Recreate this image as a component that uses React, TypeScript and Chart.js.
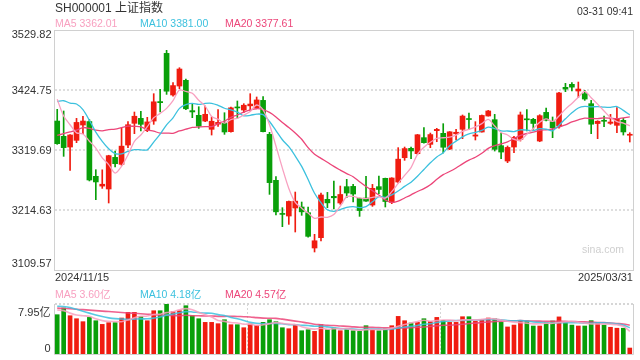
import React, { useEffect, useRef } from 'react';
import { Chart, registerables } from 'chart.js';

Chart.register(...registerables);

const dates = [
  '2024/11/15', '2024/11/18', '2024/11/19', '2024/11/20', '2024/11/21', '2024/11/22', '2024/11/25', '2024/11/26', '2024/11/27', '2024/11/28', '2024/11/29',
  '2024/12/02', '2024/12/03', '2024/12/04', '2024/12/05', '2024/12/06', '2024/12/09', '2024/12/10', '2024/12/11', '2024/12/12', '2024/12/13',
  '2024/12/16', '2024/12/17', '2024/12/18', '2024/12/19', '2024/12/20', '2024/12/23', '2024/12/24', '2024/12/25', '2024/12/26', '2024/12/27',
  '2024/12/30', '2024/12/31',
  '2025/01/02', '2025/01/03', '2025/01/06', '2025/01/07', '2025/01/08', '2025/01/09', '2025/01/10', '2025/01/13', '2025/01/14', '2025/01/15',
  '2025/01/16', '2025/01/17', '2025/01/20', '2025/01/21', '2025/01/22', '2025/01/23', '2025/01/24', '2025/01/27',
  '2025/02/05', '2025/02/06', '2025/02/07', '2025/02/10', '2025/02/11', '2025/02/12', '2025/02/13', '2025/02/14', '2025/02/17', '2025/02/18',
  '2025/02/19', '2025/02/20', '2025/02/21', '2025/02/24', '2025/02/25', '2025/02/26', '2025/02/27', '2025/02/28',
  '2025/03/03', '2025/03/04', '2025/03/05', '2025/03/06', '2025/03/07', '2025/03/10', '2025/03/11', '2025/03/12', '2025/03/13', '2025/03/14',
  '2025/03/17', '2025/03/18', '2025/03/19', '2025/03/20', '2025/03/21', '2025/03/24', '2025/03/25', '2025/03/26', '2025/03/27', '2025/03/28',
  '2025/03/31',
];

const opens = [
  3370.4, 3343.6, 3324.9, 3336.6, 3363.4, 3369.5, 3273.6, 3256.5, 3251.4, 3306.8,
  3294.6, 3328.4, 3366.4, 3375.1, 3353.5, 3370.4, 3404.5, 3488.9, 3416.0, 3431.7,
  3441.7, 3388.6, 3380.4, 3370.4, 3355.9, 3365.0, 3366.9, 3351.8, 3395.0, 3389.7,
  3397.0, 3393.8, 3406.6, 3347.1, 3266.6, 3208.5, 3204.1, 3218.1, 3219.9, 3209.9,
  3148.1, 3166.2, 3233.3, 3238.5, 3226.9, 3255.5, 3256.0, 3235.0, 3235.6, 3223.4,
  3255.5, 3270.1, 3228.0, 3263.6, 3306.2, 3322.6, 3313.3, 3341.3, 3329.6, 3353.5,
  3348.9, 3321.4, 3348.0, 3355.9, 3374.5, 3344.0, 3351.2, 3379.2, 3372.8, 3327.3,
  3300.4, 3324.9, 3338.3, 3374.0, 3373.4, 3335.4, 3385.6, 3369.3, 3361.7, 3429.4,
  3434.7, 3423.0, 3418.3, 3400.8, 3366.0, 3371.0, 3366.4, 3362.9, 3371.6, 3345.5,
];

const highs = [
  3390.9, 3388.0, 3346.5, 3375.1, 3378.6, 3373.0, 3285.2, 3285.0, 3310.5, 3317.9,
  3358.8, 3369.3, 3386.2, 3387.4, 3376.9, 3418.3, 3425.9, 3494.2, 3437.6, 3463.8,
  3444.0, 3399.6, 3395.5, 3396.7, 3377.5, 3390.3, 3385.0, 3395.0, 3405.5, 3400.8,
  3418.3, 3412.5, 3413.1, 3350.6, 3273.0, 3218.7, 3230.4, 3246.1, 3228.6, 3219.9,
  3172.0, 3244.4, 3245.5, 3265.4, 3256.6, 3268.3, 3259.5, 3235.5, 3273.6, 3259.5,
  3274.1, 3270.5, 3271.2, 3323.8, 3324.9, 3324.9, 3347.0, 3358.8, 3349.4, 3357.6,
  3365.8, 3352.0, 3355.9, 3381.0, 3384.5, 3369.3, 3381.0, 3389.1, 3382.1, 3349.4,
  3326.7, 3343.5, 3386.2, 3390.3, 3375.1, 3381.5, 3393.2, 3377.5, 3420.6, 3436.4,
  3437.6, 3438.7, 3424.1, 3406.6, 3371.0, 3379.2, 3382.1, 3393.8, 3375.1, 3350.0,
];

const lows = [
  3329.6, 3308.6, 3284.1, 3332.5, 3348.3, 3265.5, 3232.7, 3252.5, 3226.9, 3289.9,
  3292.8, 3323.8, 3348.3, 3353.0, 3351.8, 3364.6, 3386.2, 3417.1, 3414.0, 3427.1,
  3390.3, 3376.3, 3357.6, 3369.3, 3345.9, 3361.1, 3347.1, 3351.0, 3375.1, 3385.0,
  3388.0, 3392.0, 3351.2, 3242.0, 3205.8, 3185.4, 3189.5, 3176.1, 3205.3, 3167.0,
  3141.1, 3160.3, 3218.7, 3216.4, 3224.5, 3236.2, 3228.6, 3203.5, 3229.5, 3221.0,
  3243.2, 3219.9, 3225.7, 3261.9, 3301.6, 3304.5, 3312.1, 3331.5, 3323.8, 3334.2,
  3314.4, 3320.3, 3337.2, 3339.5, 3355.9, 3337.2, 3351.0, 3379.0, 3317.9, 3304.5,
  3297.5, 3315.0, 3335.4, 3353.0, 3355.9, 3334.2, 3370.4, 3341.3, 3358.0, 3421.8,
  3423.0, 3411.3, 3406.6, 3348.3, 3339.5, 3360.5, 3364.6, 3350.0, 3345.9, 3333.7,
];

const closes = [
  3330.73, 3323.85, 3346.01, 3367.99, 3370.40, 3267.19, 3263.76, 3259.76, 3309.78, 3295.70,
  3326.46, 3363.98, 3378.81, 3364.65, 3368.86, 3404.08, 3402.53, 3422.66, 3432.49, 3461.50,
  3391.88, 3386.33, 3361.49, 3382.21, 3370.03, 3368.07, 3351.26, 3393.53, 3393.35, 3398.08,
  3400.14, 3407.33, 3351.76, 3262.56, 3211.43, 3206.92, 3229.64, 3230.17, 3211.39, 3168.52,
  3160.76, 3240.94, 3227.12, 3236.03, 3241.82, 3244.38, 3242.62, 3213.62, 3230.16, 3252.63,
  3250.60, 3229.49, 3270.66, 3303.67, 3322.17, 3318.06, 3346.39, 3332.48, 3346.72, 3355.83,
  3324.49, 3351.54, 3350.78, 3379.11, 3373.03, 3346.04, 3380.21, 3388.06, 3320.90, 3316.11,
  3324.21, 3341.96, 3381.10, 3372.55, 3366.16, 3379.83, 3371.92, 3358.73, 3419.56, 3426.43,
  3429.76, 3426.43, 3408.95, 3364.83, 3370.03, 3369.98, 3368.70, 3373.75, 3351.31, 3346.31,
];

const ma5 = [
  3408.38, 3379.13, 3363.94, 3349.68, 3347.80, 3335.09, 3323.07, 3305.82, 3294.18, 3279.24,
  3291.09, 3311.14, 3334.95, 3345.92, 3360.55, 3376.08, 3383.79, 3392.56, 3406.12, 3424.65,
  3422.21, 3418.97, 3406.74, 3396.68, 3378.39, 3373.63, 3366.61, 3373.02, 3375.25, 3380.86,
  3387.27, 3398.49, 3390.13, 3363.97, 3326.64, 3288.00, 3252.46, 3228.14, 3217.91, 3209.33,
  3200.10, 3202.36, 3201.75, 3206.67, 3221.33, 3238.06, 3238.39, 3235.69, 3234.52, 3236.68,
  3237.93, 3235.30, 3246.71, 3261.41, 3275.32, 3288.81, 3312.19, 3324.55, 3333.16, 3339.90,
  3341.18, 3342.21, 3345.87, 3352.35, 3355.79, 3360.10, 3365.83, 3373.29, 3361.65, 3350.26,
  3345.90, 3338.25, 3336.86, 3347.19, 3357.20, 3368.32, 3374.31, 3369.84, 3379.24, 3391.29,
  3401.28, 3412.18, 3422.23, 3411.28, 3400.00, 3388.04, 3376.50, 3369.46, 3366.75, 3362.01,
];

const ma10 = [
  3404.59, 3405.95, 3401.85, 3400.27, 3390.24, 3371.73, 3351.10, 3334.88, 3321.93, 3313.52,
  3313.09, 3317.10, 3320.38, 3320.05, 3319.90, 3333.58, 3347.46, 3363.75, 3376.02, 3392.60,
  3399.14, 3401.38, 3399.65, 3401.40, 3401.52, 3397.92, 3392.79, 3389.88, 3385.97, 3379.62,
  3380.45, 3382.55, 3381.58, 3369.61, 3353.75, 3337.64, 3325.47, 3309.14, 3290.94, 3267.99,
  3244.05, 3227.41, 3214.95, 3212.29, 3215.33, 3219.08, 3220.38, 3218.72, 3220.60, 3229.01,
  3237.99, 3236.85, 3241.20, 3247.97, 3256.00, 3263.37, 3273.75, 3285.63, 3297.29, 3307.61,
  3315.00, 3327.20, 3335.21, 3342.76, 3347.84, 3350.64, 3354.02, 3359.58, 3357.00, 3353.03,
  3353.00, 3352.04, 3355.07, 3354.42, 3353.73, 3357.11, 3356.28, 3353.35, 3363.21, 3374.25,
  3384.80, 3393.25, 3396.03, 3395.26, 3395.65, 3394.66, 3394.34, 3395.84, 3389.02, 3381.00,
];

const ma20 = [
  3345.46, 3348.25, 3351.26, 3354.52, 3359.02, 3357.40, 3354.48, 3353.14, 3355.32, 3356.12,
  3358.84, 3361.53, 3361.12, 3360.16, 3355.07, 3352.66, 3349.28, 3349.32, 3348.98, 3353.06,
  3356.12, 3359.24, 3360.02, 3360.73, 3360.71, 3365.75, 3370.13, 3376.82, 3380.99, 3386.11,
  3389.80, 3391.96, 3390.61, 3385.51, 3377.64, 3367.78, 3359.13, 3349.51, 3338.45, 3323.80,
  3312.25, 3304.98, 3298.26, 3290.95, 3284.54, 3278.36, 3272.92, 3263.93, 3255.77, 3248.50,
  3241.02, 3232.13, 3228.07, 3230.13, 3235.67, 3241.22, 3247.06, 3252.18, 3258.94, 3268.31,
  3276.49, 3282.02, 3288.21, 3295.36, 3301.92, 3307.00, 3313.88, 3322.61, 3327.14, 3330.32,
  3334.00, 3339.62, 3345.14, 3348.59, 3350.79, 3353.88, 3355.15, 3356.46, 3360.11, 3363.64,
  3368.90, 3372.64, 3375.55, 3374.84, 3374.69, 3375.89, 3375.31, 3374.59, 3376.12, 3377.61,
];

// volumes in 亿
const volumes = [
  6.25, 7.31, 6.09, 5.61, 5.14, 5.82, 5.29, 4.71, 4.98, 4.98,
  5.72, 6.62, 6.62, 5.98, 5.29, 6.88, 6.88, 7.95, 6.72, 6.88,
  7.68, 6.09, 5.61, 5.03, 5.03, 4.82, 5.45, 4.66, 4.66, 4.18,
  4.77, 4.55, 5.03, 5.45, 5.14, 4.18, 4.02, 4.61, 3.70, 3.86,
  3.60, 4.66, 3.86, 4.13, 3.70, 3.86, 3.70, 3.60, 4.50, 3.86,
  3.70, 3.98, 4.50, 5.98, 5.29, 4.93, 5.03, 5.61, 5.19, 5.82,
  5.35, 5.03, 5.03, 5.93, 5.93, 5.19, 5.45, 5.72, 5.61, 5.03,
  4.30, 4.60, 5.35, 5.25, 4.45, 4.45, 5.00, 5.25, 5.90, 5.05,
  4.60, 4.45, 4.45, 5.30, 5.00, 4.60, 4.25, 4.10, 4.10, 0.95,
];

const volMa5 = [
  7.00, 6.90, 6.50, 6.20, 6.08, 5.99, 5.59, 5.31, 5.19, 5.16,
  5.14, 5.40, 5.78, 5.98, 6.05, 6.28, 6.33, 6.58, 6.73, 7.05,
  7.21, 7.05, 6.60, 6.26, 5.89, 5.32, 5.19, 5.00, 4.92, 4.75,
  4.74, 4.56, 4.64, 4.80, 4.99, 4.87, 4.76, 4.68, 4.33, 4.07,
  3.96, 4.09, 3.94, 4.02, 3.99, 4.04, 3.85, 3.80, 3.87, 3.90,
  3.87, 3.93, 4.11, 4.40, 4.69, 4.94, 5.15, 5.37, 5.21, 5.32,
  5.40, 5.40, 5.28, 5.43, 5.45, 5.42, 5.51, 5.64, 5.58, 5.40,
  5.22, 5.05, 4.98, 4.91, 4.79, 4.82, 4.90, 4.88, 5.01, 5.13,
  5.16, 5.05, 4.89, 4.77, 4.76, 4.76, 4.72, 4.65, 4.41, 3.60,
];

const volMa10 = [
  7.60, 7.55, 7.40, 7.10, 6.80, 6.50, 6.20, 5.95, 5.75, 5.62,
  5.57, 5.50, 5.55, 5.59, 5.60, 5.71, 5.87, 6.18, 6.36, 6.55,
  6.74, 6.69, 6.59, 6.50, 6.47, 6.26, 6.12, 5.80, 5.59, 5.32,
  5.03, 4.88, 4.82, 4.86, 4.87, 4.81, 4.66, 4.66, 4.56, 4.53,
  4.41, 4.43, 4.31, 4.18, 4.03, 4.00, 3.97, 3.87, 3.95, 3.95,
  3.96, 3.89, 3.95, 4.14, 4.30, 4.40, 4.54, 4.74, 4.81, 5.00,
  5.17, 5.27, 5.33, 5.32, 5.39, 5.41, 5.45, 5.46, 5.51, 5.43,
  5.32, 5.28, 5.31, 5.24, 5.10, 5.02, 4.98, 4.93, 4.96, 4.96,
  4.99, 4.98, 4.89, 4.89, 4.95, 4.96, 4.89, 4.77, 4.59, 4.18,
];

const volMa20 = [
  7.30, 7.25, 7.20, 7.12, 7.05, 6.98, 6.90, 6.82, 6.75, 6.68,
  6.60, 6.53, 6.47, 6.40, 6.33, 6.26, 6.20, 6.16, 6.12, 6.08,
  6.15, 6.09, 6.07, 6.04, 6.04, 5.99, 5.99, 5.99, 5.97, 5.93,
  5.89, 5.78, 5.70, 5.68, 5.67, 5.54, 5.39, 5.23, 5.08, 4.93,
  4.72, 4.65, 4.56, 4.52, 4.45, 4.40, 4.32, 4.26, 4.26, 4.24,
  4.19, 4.16, 4.13, 4.16, 4.16, 4.20, 4.25, 4.30, 4.38, 4.48,
  4.56, 4.58, 4.64, 4.73, 4.84, 4.91, 5.00, 5.10, 5.16, 5.22,
  5.25, 5.28, 5.32, 5.28, 5.24, 5.22, 5.21, 5.20, 5.23, 5.19,
  5.16, 5.13, 5.10, 5.07, 5.02, 4.99, 4.93, 4.85, 4.77, 4.57,
];

const priceTicks = [3529.82, 3424.75, 3319.69, 3214.63, 3109.57];
const volumeTicks = [7.95, 0];

const TITLE = 'SH000001 上证指数';
const TIME = '03-31 09:41';
const WATERMARK = 'sina.com';

const RED = '#f01c10';
const GREEN = '#099f09';
const C_MA5 = '#f8a0c0';
const C_MA10 = '#3cc1de';
const C_MA20 = '#ec4579';
const V_MA5 = 'rgba(248,160,192,0.85)';
const V_MA10 = 'rgba(60,193,222,0.85)';
const V_MA20 = 'rgba(236,69,121,0.85)';
const FONT = '"Liberation Sans", Arial, "Noto Sans CJK SC", sans-serif';
const TEXT = '#333333';

const last = (a: number[]) => a[a.length - 1];

export default function App() {
  const priceRef = useRef<HTMLCanvasElement>(null);
  const volRef = useRef<HTMLCanvasElement>(null);

  useEffect(() => {
    document.body.style.margin = '0';
    const colors = closes.map((c, i) => (c >= opens[i] ? RED : GREEN));

    const priceFrame = {
      id: 'priceFrame',
      beforeDatasetsDraw(chart: any) {
        const { ctx, chartArea: a, scales } = chart;
        const y = scales.y;
        ctx.save();
        ctx.strokeStyle = '#dedede';
        ctx.lineWidth = 2;
        ctx.setLineDash([2, 2]);
        priceTicks.slice(1, -1).forEach((v) => {
          const py = Math.round(y.getPixelForValue(v));
          ctx.beginPath();
          ctx.moveTo(a.left + 1, py);
          ctx.lineTo(a.right, py);
          ctx.stroke();
        });
        ctx.setLineDash([]);
        ctx.lineWidth = 1;
        ctx.strokeStyle = '#d0d0d0';
        ctx.strokeRect(a.left + 0.5, a.top + 0.5, a.right - a.left, a.bottom - a.top);
        ctx.restore();
      },
      afterDraw(chart: any) {
        const { ctx, chartArea: a, scales } = chart;
        const y = scales.y;
        ctx.save();
        ctx.font = `11px ${FONT}`;
        ctx.fillStyle = TEXT;
        ctx.textAlign = 'right';
        ctx.textBaseline = 'alphabetic';
        priceTicks.forEach((v, i) => {
          const py = y.getPixelForValue(v);
          let base = py + 4;
          if (i === 0) base = py + 7.5;
          if (i === priceTicks.length - 1) base = py - 3.5;
          ctx.fillText(v.toFixed(2), a.left - 2.5, base);
        });
        ctx.restore();
      },
    };

    const priceChart = new Chart(priceRef.current as HTMLCanvasElement, {
      type: 'bar',
      data: {
        labels: dates,
        datasets: [
          { type: 'line', label: 'MA5', data: ma5, borderColor: C_MA5, borderWidth: 1.3, pointRadius: 0, tension: 0.3, order: 0 } as any,
          { type: 'line', label: 'MA10', data: ma10, borderColor: C_MA10, borderWidth: 1.3, pointRadius: 0, tension: 0.3, order: 0 } as any,
          { type: 'line', label: 'MA20', data: ma20, borderColor: C_MA20, borderWidth: 1.3, pointRadius: 0, tension: 0.3, order: 0 } as any,
          {
            type: 'bar', label: 'body', data: opens.map((o, i) => [o, closes[i]]),
            backgroundColor: colors, barThickness: 5, minBarLength: 1, grouped: false, order: 1,
          } as any,
          {
            type: 'bar', label: 'wick', data: lows.map((l, i) => [l, highs[i]]),
            backgroundColor: colors, barThickness: 1, grouped: false, order: 2,
          } as any,
        ],
      },
      options: {
        animation: false,
        responsive: false,
        maintainAspectRatio: false,
        devicePixelRatio: 1,
        layout: { padding: { left: 54, right: 7, top: 30, bottom: 90 } },
        plugins: { legend: { display: false }, tooltip: { enabled: false } },
        scales: {
          x: { display: false, offset: true },
          y: { display: false, min: last(priceTicks), max: priceTicks[0] },
        },
      },
      plugins: [priceFrame],
    });

    const volFrame = {
      id: 'volFrame',
      beforeDatasetsDraw(chart: any) {
        const { ctx, chartArea: a } = chart;
        ctx.save();
        ctx.strokeStyle = '#d6d6d6';
        ctx.lineWidth = 2;
        ctx.setLineDash([2, 2]);
        ctx.beginPath();
        ctx.moveTo(a.left + 1, a.top);
        ctx.lineTo(a.right, a.top);
        ctx.stroke();
        ctx.lineWidth = 1;
        [1, 2].forEach((k) => {
          const px = Math.round(a.left + ((a.right - a.left) * k) / 3) + 0.5;
          ctx.beginPath();
          ctx.moveTo(px, a.top);
          ctx.lineTo(px, a.bottom);
          ctx.stroke();
        });
        ctx.setLineDash([]);
        ctx.strokeStyle = '#d0d0d0';
        ctx.beginPath();
        ctx.moveTo(a.left + 0.5, a.top);
        ctx.lineTo(a.left + 0.5, a.bottom + 0.5);
        ctx.lineTo(a.right + 0.5, a.bottom + 0.5);
        ctx.lineTo(a.right + 0.5, a.top);
        ctx.stroke();
        ctx.restore();
      },
      afterDraw(chart: any) {
        const { ctx, chartArea: a, scales } = chart;
        const y = scales.y;
        ctx.save();
        ctx.font = `11px ${FONT}`;
        ctx.fillStyle = TEXT;
        ctx.textAlign = 'right';
        ctx.textBaseline = 'alphabetic';
        volumeTicks.forEach((v, i) => {
          const py = y.getPixelForValue(v);
          const base = i === 0 ? py + 11.5 : py - 2;
          ctx.fillText(v === 0 ? '0' : `${v.toFixed(2)}亿`, a.left - 3.5, base);
        });
        ctx.restore();
      },
    };

    const volChart = new Chart(volRef.current as HTMLCanvasElement, {
      type: 'bar',
      data: {
        labels: dates,
        datasets: [
          { type: 'line', label: 'MA5', data: volMa5, borderColor: V_MA5, borderWidth: 1.6, pointRadius: 0, tension: 0.3, order: 0 } as any,
          { type: 'line', label: 'MA10', data: volMa10, borderColor: V_MA10, borderWidth: 1.6, pointRadius: 0, tension: 0.3, order: 0 } as any,
          { type: 'line', label: 'MA20', data: volMa20, borderColor: V_MA20, borderWidth: 1.6, pointRadius: 0, tension: 0.3, order: 0 } as any,
          { type: 'bar', label: 'vol', data: volumes, backgroundColor: colors, barThickness: 4, order: 1 } as any,
        ],
      },
      options: {
        animation: false,
        responsive: false,
        maintainAspectRatio: false,
        devicePixelRatio: 1,
        layout: { padding: { left: 54, right: 7, top: 304, bottom: 6 } },
        plugins: { legend: { display: false }, tooltip: { enabled: false } },
        scales: {
          x: { display: false, offset: true },
          y: { display: false, min: 0, max: volumeTicks[0] },
        },
      },
      plugins: [volFrame],
    });

    return () => {
      priceChart.destroy();
      volChart.destroy();
    };
  }, []);

  const txt = (style: any) => ({
    position: 'absolute' as const,
    whiteSpace: 'nowrap' as const,
    fontFamily: FONT,
    color: TEXT,
    margin: 0,
    ...style,
    lineHeight: `${style.fontSize}px`,
  });

  return (
    <div style={{ position: 'relative', width: 640, height: 360, background: '#fff', overflow: 'hidden' }}>
      <canvas ref={priceRef} width={640} height={360} style={{ position: 'absolute', left: 0, top: 0, width: 640, height: 360 }} />
      <canvas ref={volRef} width={640} height={360} style={{ position: 'absolute', left: 0, top: 0, width: 640, height: 360 }} />
      <div style={txt({ left: 55, top: 1.5, fontSize: 12 })}>{TITLE}</div>
      <div style={txt({ right: 7, top: 5.8, fontSize: 10.5 })}>{TIME}</div>
      <div style={txt({ left: 55, top: 18.4, fontSize: 10.5, color: C_MA5 })}>{`MA5 ${last(ma5).toFixed(2)}`}</div>
      <div style={txt({ left: 140, top: 18.4, fontSize: 10.5, color: C_MA10 })}>{`MA10 ${last(ma10).toFixed(2)}`}</div>
      <div style={txt({ left: 225, top: 18.4, fontSize: 10.5, color: C_MA20 })}>{`MA20 ${last(ma20).toFixed(2)}`}</div>
      <div style={txt({ left: 582, top: 244, fontSize: 10.5, color: '#cfcfcf' })}>{WATERMARK}</div>
      <div style={txt({ left: 55, top: 272.4, fontSize: 11 })}>{dates[0]}</div>
      <div style={txt({ right: 7, top: 272.4, fontSize: 11 })}>{last(dates as any) as any}</div>
      <div style={txt({ left: 55, top: 288.6, fontSize: 10.5, color: C_MA5 })}>{`MA5 ${last(volMa5).toFixed(2)}亿`}</div>
      <div style={txt({ left: 140, top: 288.6, fontSize: 10.5, color: C_MA10 })}>{`MA10 ${last(volMa10).toFixed(2)}亿`}</div>
      <div style={txt({ left: 225, top: 288.6, fontSize: 10.5, color: C_MA20 })}>{`MA20 ${last(volMa20).toFixed(2)}亿`}</div>
    </div>
  );
}
